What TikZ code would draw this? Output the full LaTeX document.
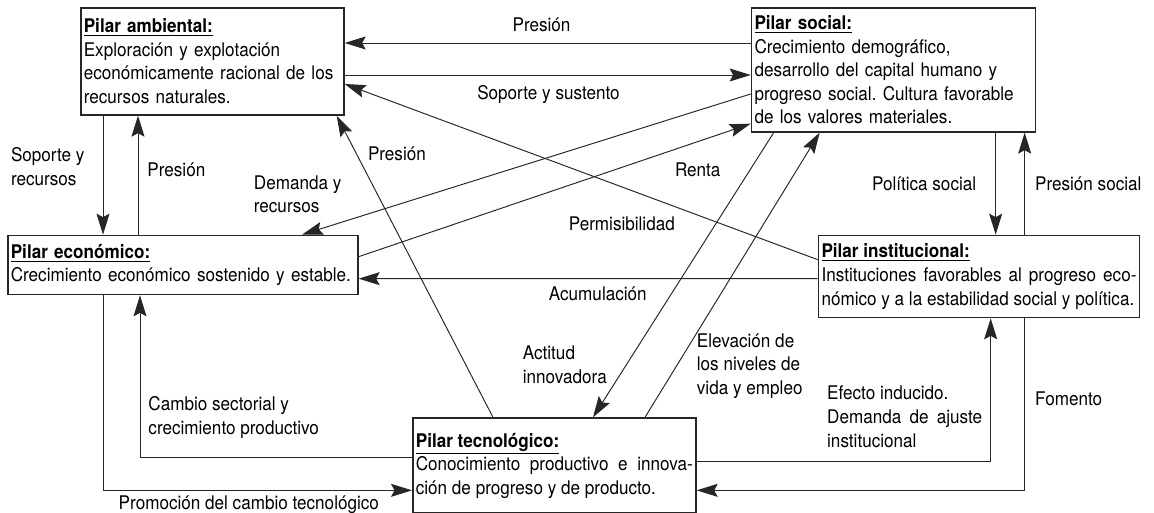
\documentclass[tikz,border=0pt]{standalone}
\usepackage{fontspec}
\setmainfont[FakeStretch=0.91]{TeX Gyre Heros}
\usetikzlibrary{positioning,arrows.meta}
\frenchspacing
\newcommand\pilarfont{\fontsize{10.7pt}{13.4pt}\selectfont}
\newcommand\pilartit[1]{\underline{\textbf{#1}}}

\begin{document}
\begin{tikzpicture}[
	pilar/.style={draw=black!85, line width=0.95pt, inner xsep=0.06cm, inner ysep=0pt, font=\pilarfont},
	lbl/.style={font=\pilarfont, inner sep=0.05cm, align=left},
	flow/.style={draw=black!85, line width=0.55pt, -{Stealth[length=0.42cm, width=0.26cm, inset=0.07cm]}},
	]
	\useasboundingbox (0,0) rectangle (23.08,-10.26);
	\node[pilar, text width=5.14cm, minimum height=2.14cm, align=left, anchor=north west] (amb) at (1.6,-0.14)
		{\pilartit{Pilar ambiental:}\\ Exploración y explotación\\ económicamente racional de los\\ recursos naturales.};
	\node[pilar, text width=5.56cm, minimum height=2.48cm, align=left, right =8.12cm of amb.north east, anchor=north west] (soc)
		{\pilartit{Pilar social:}\\ Crecimiento demográfico,\\ desarrollo del capital humano y\\ progreso social. Cultura favorable\\ de los valores materiales.};
	\node[pilar, text width=6.88cm, minimum height=1.18cm, align=left, below left =2.38cm and 1.46cm of amb.south west, anchor=north west] (eco)
		{\pilartit{Pilar económico:}\\ Crecimiento económico sostenido y estable.};
	\node[pilar, text width=6.30cm, minimum height=1.64cm, align=justify, below right =2.04cm and 1.34cm of soc.south west, anchor=north west] (ins)
		{\pilartit{Pilar institucional:}\\ Instituciones favorables al progreso eco-\linebreak nómico y a la estabilidad social y política.};
	\node[pilar, text width=5.54cm, minimum height=1.9cm, align=justify, below right =2.44cm and 8.1cm of eco.south west, anchor=north west] (tec)
		{\pilartit{Pilar tecnológico:}\\ Conocimiento productivo e innova-\linebreak ción de progreso y de producto.};
	%%%%%%%%%%
	\coordinate (sr) at ([xshift=0.46cm]amb.south west);
	\coordinate (pv) at ([xshift=1.16cm]amb.south west);
	\coordinate (ps) at ([xshift=4.9cm]soc.south west);
	\coordinate (pr) at ([xshift=5.48cm]soc.south west);
	%%%%%%%%%%
	\draw[flow] ([yshift=-0.72cm]soc.north west) -- node[lbl, pos=0.515, above=0.17cm] {Presión} ([yshift=-0.72cm]amb.north east);
	\draw[flow] ([yshift=-1.36cm]amb.north east) -- node[lbl, pos=0.502, below=0.15cm] {Soporte y sustento} ([yshift=-1.36cm]soc.north west);
	\draw[flow] (sr) -- node[lbl, pos=0.43, left=0.31cm] {Soporte y\\ recursos} (sr |- eco.north);
	\draw[flow] (pv |- eco.north) -- node[lbl, pos=0.546, right=0.13cm] {Presión} (pv);
	\draw[flow] ([xshift=1.62cm]tec.north west) -- node[lbl, pos=0.873, right=0.17cm] {Presión} ([xshift=-0.16cm]amb.south east);
	\draw[flow] ([yshift=-1.74cm]soc.north west) -- node[lbl, pos=0.9, above left=0.09cm and 0.05cm] {Demanda y\\ recursos} ([xshift=5.9cm]eco.north west);
	\draw[flow] ([yshift=-0.44cm]eco.north east) -- node[lbl, pos=0.865, below=0.37cm] {Renta} ([yshift=0.18cm]soc.south west);
	\draw[flow] ([yshift=-0.5cm]ins.north west) -- node[lbl, pos=0.414, below=0.53cm] {Permisibilidad} ([yshift=-1.54cm]amb.north east);
	\draw[flow] ([yshift=-0.88cm]ins.north west) -- node[lbl, pos=0.479, below=0.11cm] {Acumulación} ([yshift=-0.88cm]eco.north east);
	%%%%%%%%%%
	\draw[flow] ([xshift=0.46cm]soc.south west) -- node[lbl, pos=0.816, left=0.33cm] {Actitud\\ innovadora} ([xshift=3.62cm]tec.north west);
	\draw[flow] ([xshift=4.66cm]tec.north west) -- node[lbl, pos=0.18, right=0.35cm] {Elevación de\\ los niveles de\\ vida y empleo} ([xshift=1.38cm]soc.south west);
	\draw[flow] (ps) -- node[lbl, pos=0.5, left=0.33cm] {Política social} (ps |- ins.north);
	\draw[flow] (pr |- ins.north) -- node[lbl, pos=0.5, right=0.15cm] {Presión social} (pr);
	%%%%%%%%%%
	\draw[flow] ([yshift=-0.8cm]tec.north west) -| node[lbl, pos=0.623, right=0.11cm] {Cambio sectorial y\\ crecimiento productivo} ([xshift=2.66cm]eco.south west);
	\draw[flow] ([xshift=1.92cm]eco.south west) |- node[lbl, pos=0.736, below=0.05cm] {Promoción del cambio tecnológico} ([yshift=-1.46cm]tec.north west);
	\draw[flow] ([yshift=-0.88cm]tec.north east) -| node[lbl, pos=0.656, left=0.11cm, text width=3.1cm, align=justify] {Efecto inducido.\\ Demanda de ajuste\linebreak institucional} ([xshift=3.46cm]ins.south west);
	\draw[flow] ([xshift=4.14cm]ins.south west) |- node[lbl, pos=0.233, right=0.15cm] {Fomento} ([yshift=-1.46cm]tec.north east);
\end{tikzpicture}
\end{document}
